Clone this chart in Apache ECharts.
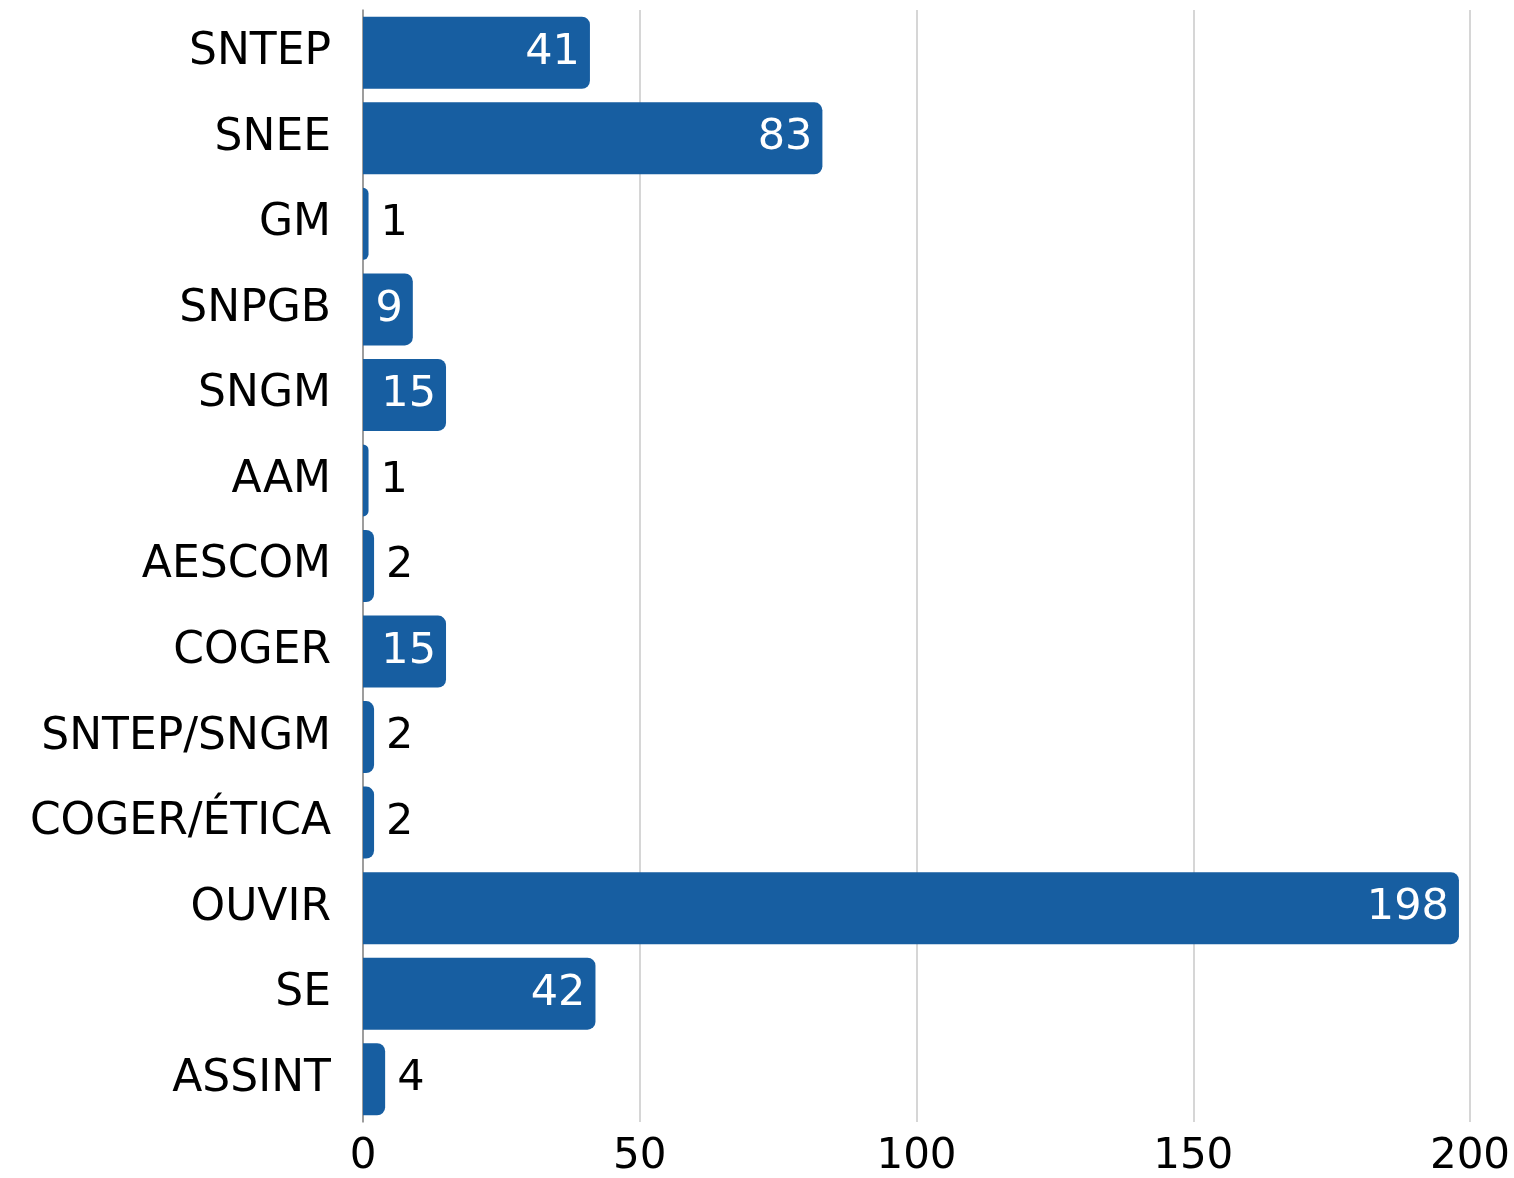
<!DOCTYPE html>
<html>
<head>
<meta charset="utf-8">
<script src="https://cdn.jsdelivr.net/npm/echarts@6/dist/echarts.min.js"></script>
<style>html,body{margin:0;padding:0;background:#fff}#c{width:1514px;height:1178px}</style>
</head>
<body>
<div id="c"></div>
<script>
const categories = ["SNTEP","SNEE","GM","SNPGB","SNGM","AAM","AESCOM","COGER","SNTEP/SNGM","COGER/ÉTICA","OUVIR","SE","ASSINT"];
const values = [41,83,1,9,15,1,2,15,2,2,198,42,4];
const xTicks = [0,50,100,150,200];

const FONT = "DejaVu Sans";
const BAR = "#175EA1";
const data = values.map(v => ({
  value: v,
  label: v >= 9
    ? { position: "insideRight", distance: 10, color: "#fff" }
    : { position: "right", distance: 12, color: "#000" }
}));

const chart = echarts.init(document.getElementById("c"), null, { renderer: "canvas" });
chart.setOption({
  animation: false,
  grid: { left: 363, right: 44, top: 10, bottom: 42, containLabel: false },
  xAxis: {
    type: "value", min: xTicks[0], max: xTicks[xTicks.length - 1], interval: 50,
    axisLine: { show: false }, axisTick: { show: false },
    splitLine: { show: true, lineStyle: { color: "#c8c8c8", width: 1.5 } },
    axisLabel: { fontFamily: FONT, fontSize: 42, color: "#000", margin: 14 }
  },
  yAxis: {
    type: "category", data: categories, inverse: true,
    axisLine: { show: true, lineStyle: { color: "#8a8a8a", width: 1.5 } },
    axisTick: { show: false },
    axisLabel: { fontFamily: FONT, fontSize: 44, color: "#000", margin: 32 }
  },
  series: [{
    type: "bar", data: data, barWidth: 72,
    itemStyle: { color: BAR, borderRadius: [0, 8, 8, 0] },
    label: { show: true, fontFamily: FONT, fontSize: 43 }
  }]
});
</script>
</body>
</html>
